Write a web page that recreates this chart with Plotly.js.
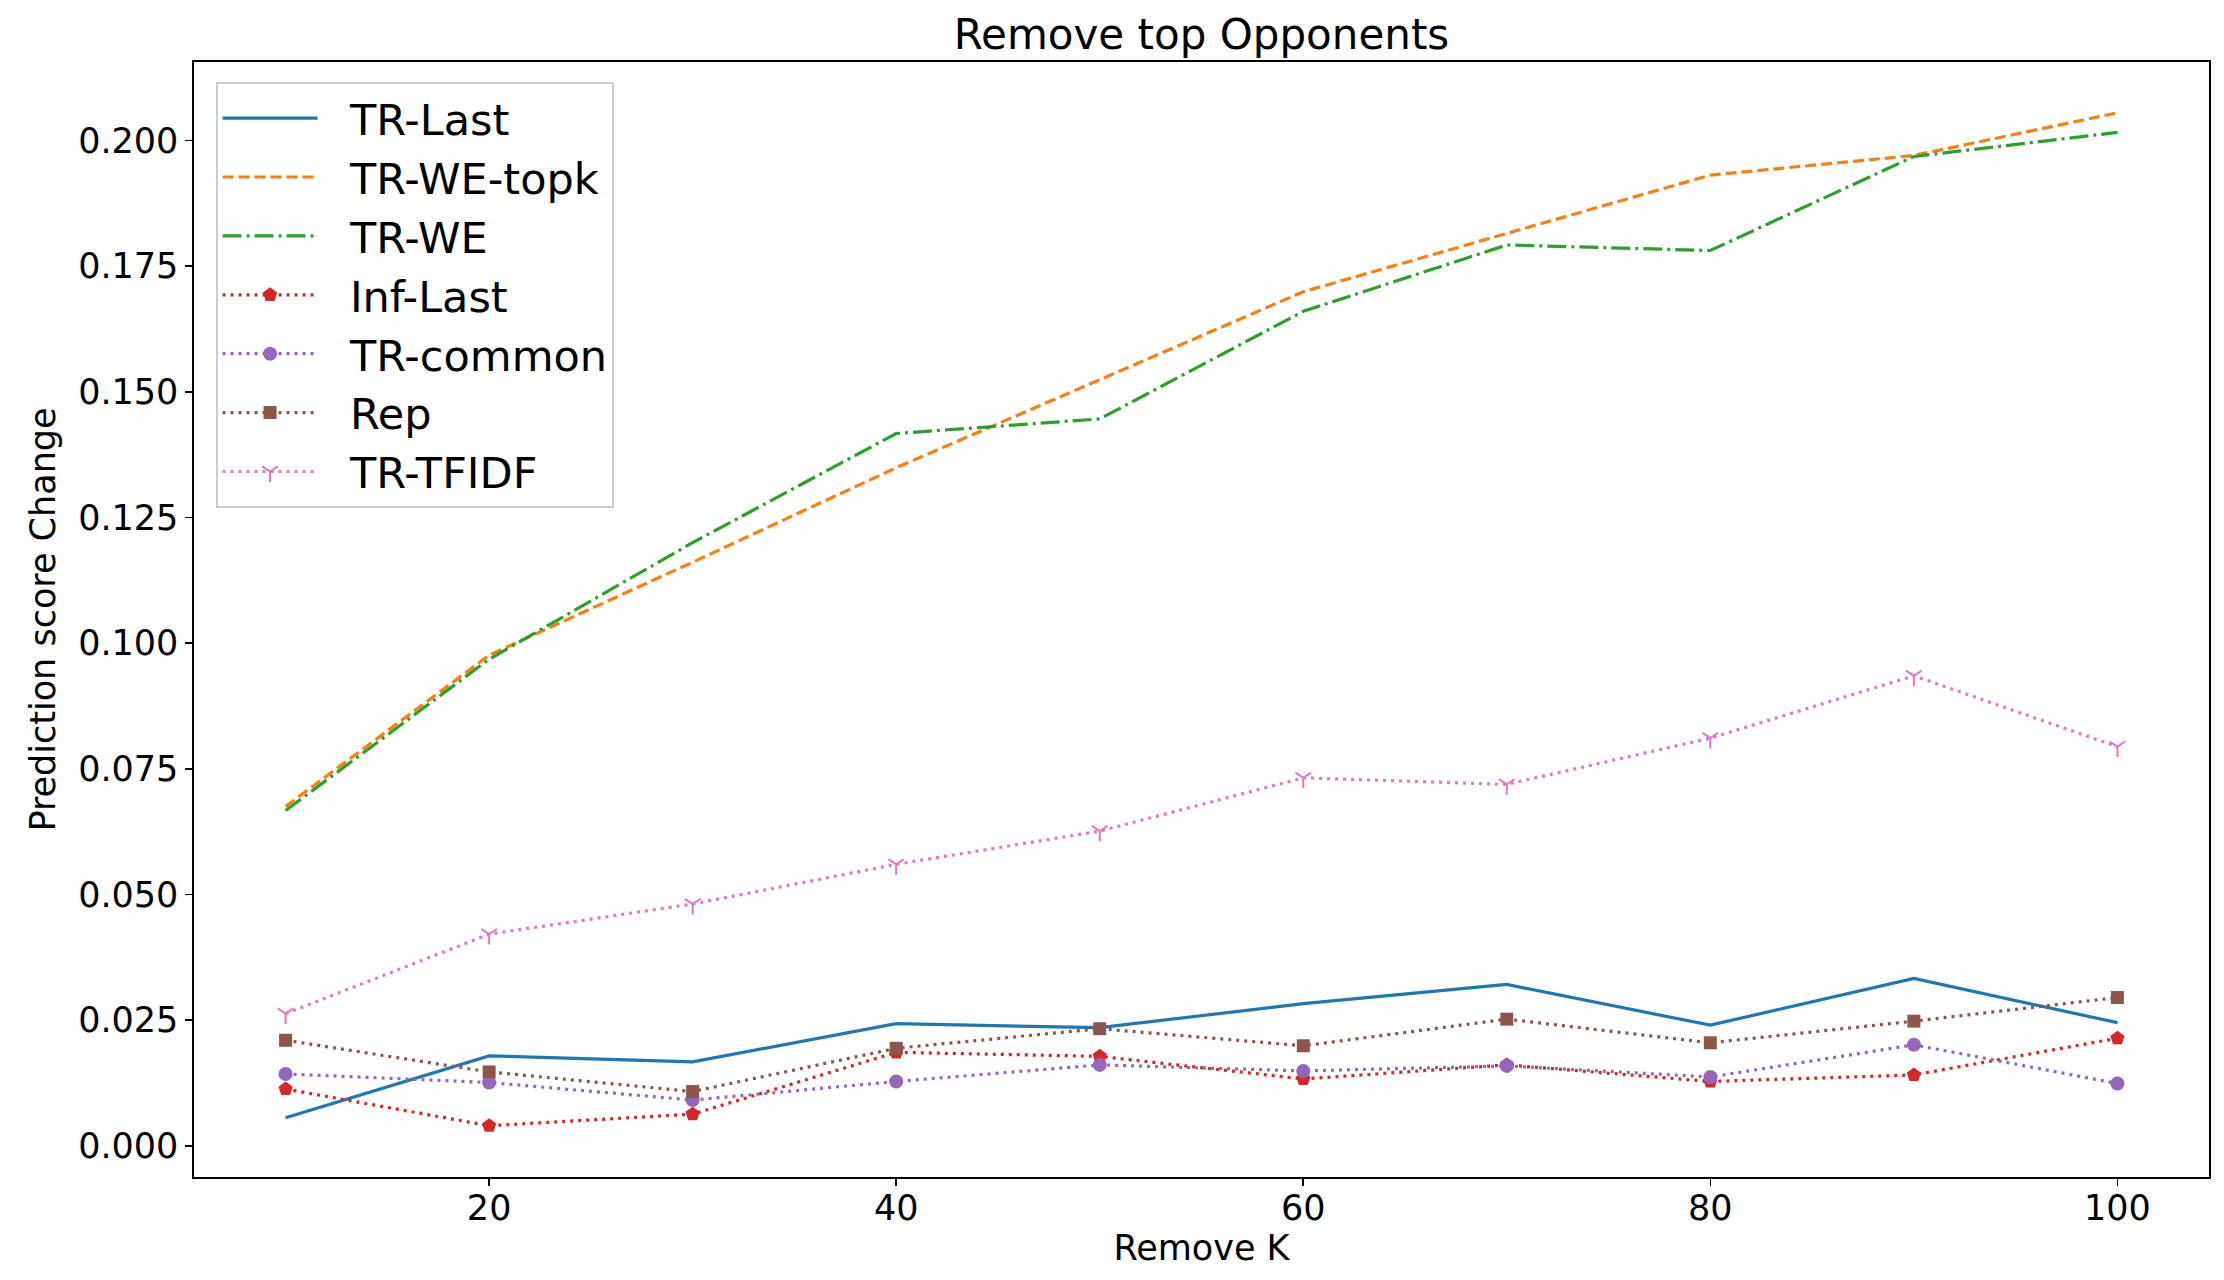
<!DOCTYPE html>
<html>
<head>
<meta charset="utf-8">
<script src="https://cdn.plot.ly/plotly-3.0.1.min.js"></script>
<style>
  html, body { margin: 0; padding: 0; background: #fff; }
  #graph { width: 2224px; height: 1280px; }
</style>
</head>
<body>
<div id="graph"></div>
<script>
// Remove K values (x axis)
var removeK = [10, 20, 30, 40, 50, 60, 70, 80, 90, 100];

// Prediction score change per method
var trLast     = [0.0056, 0.0179, 0.0167, 0.0243, 0.0235, 0.0283, 0.0321, 0.0240, 0.0333, 0.0245];
var trWeTopk   = [0.0675, 0.0976, 0.1161, 0.1349, 0.1524, 0.1699, 0.1815, 0.1931, 0.1970, 0.2055];
var trWe       = [0.0667, 0.0968, 0.1200, 0.1417, 0.1446, 0.1660, 0.1792, 0.1781, 0.1968, 0.2016];
var infLast    = [0.0113, 0.0040, 0.0063, 0.0186, 0.0178, 0.0133, 0.0161, 0.0128, 0.0141, 0.0214];
var trCommon   = [0.0143, 0.0126, 0.0091, 0.0128, 0.0161, 0.0149, 0.0159, 0.0137, 0.0201, 0.0124];
var rep        = [0.0210, 0.0147, 0.0108, 0.0194, 0.0233, 0.0199, 0.0252, 0.0205, 0.0248, 0.0295];
var trTfidf    = [0.0263, 0.0421, 0.0481, 0.0560, 0.0626, 0.0732, 0.0719, 0.0811, 0.0935, 0.0794];

var xTicks = [20, 40, 60, 80, 100];
var yTicks = [0.000, 0.025, 0.050, 0.075, 0.100, 0.125, 0.150, 0.175, 0.200];

var FONT = 'DejaVu Sans, Liberation Sans, sans-serif';
var LW = 3.2; // line width in px
var PAD = '\u00a0\u00a0'; // gap between legend sample and label

/* ---------- trace helpers ---------- */

function lineTrace(name, y, color, dash) {
    return {
        x: removeK,
        y: y,
        name: PAD + name,
        legendgroup: name,
        type: 'scatter',
        mode: 'lines',
        line: { color: color, width: LW, dash: dash }
    };
}

function markerTrace(name, y, color, symbol, size, open) {
    var t = lineTrace(name, y, color, '3px,5px');
    t.mode = 'lines+markers';
    t.marker = { symbol: symbol, size: size, color: color };
    if (open) {
        t.marker.line = { color: color, width: 2 };
    }
    return t;
}

var data = [
    lineTrace('TR-Last', trLast, '#1f77b4', 'solid'),
    lineTrace('TR-WE-topk', trWeTopk, '#ff7f0e', '11px,5px'),
    lineTrace('TR-WE', trWe, '#2ca02c', '19px,5px,3px,5px'),
    markerTrace('Inf-Last', infLast, '#d62728', 'pentagon', 15, false),
    markerTrace('TR-common', trCommon, '#9467bd', 'circle', 14, false),
    markerTrace('Rep', rep, '#8c564b', 'square', 13, false),
    markerTrace('TR-TFIDF', trTfidf, '#e377c2', 'y-down', 13, true)
];

var layout = {
    width: 2224,
    height: 1280,
    paper_bgcolor: '#ffffff',
    plot_bgcolor: '#ffffff',
    font: { family: FONT, size: 35, color: '#000000' },
    margin: { l: 194, r: 15, t: 62, b: 103, pad: 0 },
    title: {
        text: 'Remove top Opponents',
        font: { family: FONT, size: 42, color: '#000000' },
        x: 0.5,
        xref: 'paper',
        xanchor: 'center',
        y: 1 - 34 / 1280,
        yanchor: 'middle'
    },
    showlegend: true,
    legend: {
        x: 0.0109,
        y: 0.982,
        xanchor: 'left',
        yanchor: 'top',
        bgcolor: 'rgba(255,255,255,0.8)',
        bordercolor: '#cccccc',
        borderwidth: 1.6,
        font: { family: FONT, size: 43, color: '#000000' },
        itemwidth: 95,
        tracegroupgap: 4.6,
        traceorder: 'normal'
    },
    xaxis: {
        range: [5.5, 104.5],
        autorange: false,
        tickvals: xTicks,
        ticktext: xTicks.map(String),
        ticks: 'outside',
        ticklen: 7,
        tickwidth: 1.6,
        tickcolor: '#000000',
        ticklabelstandoff: -8,
        showline: true,
        linecolor: '#000000',
        linewidth: 1.6,
        mirror: true,
        showgrid: false,
        zeroline: false,
        tickfont: { family: FONT, size: 35, color: '#000000' },
        title: {
            text: 'Remove K',
            font: { family: FONT, size: 35, color: '#000000' },
            standoff: 4
        }
    },
    yaxis: {
        range: [-0.0062, 0.2156],
        autorange: false,
        tickvals: yTicks,
        ticktext: yTicks.map(function (v) { return v.toFixed(3); }),
        ticks: 'outside',
        ticklen: 7,
        tickwidth: 1.6,
        tickcolor: '#000000',
        showline: true,
        linecolor: '#000000',
        linewidth: 1.6,
        mirror: true,
        showgrid: false,
        zeroline: false,
        tickfont: { family: FONT, size: 35, color: '#000000' },
        title: {
            text: 'Prediction score Change',
            font: { family: FONT, size: 35, color: '#000000' },
            standoff: 12
        }
    }
};

var graph = document.getElementById('graph');
Plotly.newPlot(graph, data, layout, { staticPlot: true });
</script>
</body>
</html>
